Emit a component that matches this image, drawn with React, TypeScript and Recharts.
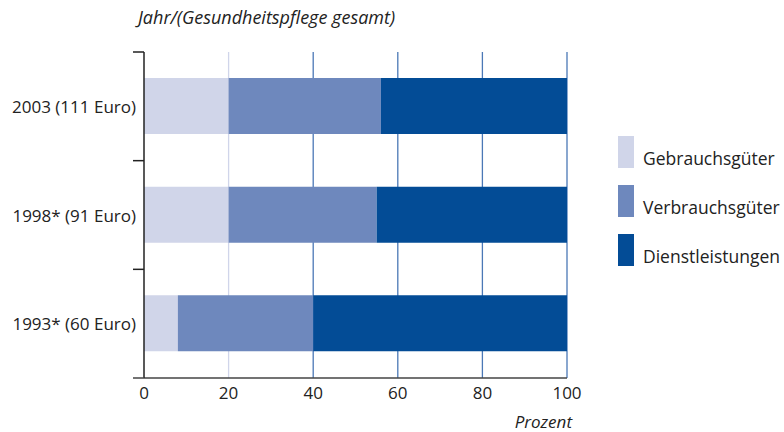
import React from 'react';
import { BarChart, Bar, XAxis, YAxis, CartesianGrid } from 'recharts';

const categories = ['2003 (111 Euro)', '1998* (91 Euro)', '1993* (60 Euro)'];
const gebrauchsgueter = [20, 20, 8];
const verbrauchsgueter = [36, 35, 32];
const dienstleistungen = [44, 45, 60];
const xTicks = [0, 20, 40, 60, 80, 100];

const seriesNames = ['Gebrauchsgüter', 'Verbrauchsgüter', 'Dienstleistungen'];
const colors = ['#d0d5e9', '#6e88bd', '#034c96'];

const data = categories.map((name, i) => ({
  name,
  g: gebrauchsgueter[i],
  v: verbrauchsgueter[i],
  d: dienstleistungen[i],
}));

const FONT = '"Open Sans", sans-serif';
const BAND = 326 / categories.length;

const YTick = (props: any) => {
  const { x, y, payload, index } = props;
  const ax = x + 8;
  return (
    <g>
      <text x={x} y={y} textAnchor="end" dominantBaseline="central" fontFamily={FONT} fontSize={17} fill="#222">
        {payload.value}
      </text>
      <line x1={ax - 11} x2={ax} y1={y - BAND / 2} y2={y - BAND / 2} stroke="#222" strokeWidth={1.5} />
      {index === categories.length - 1 && (
        <line x1={ax - 11} x2={ax} y1={y + BAND / 2} y2={y + BAND / 2} stroke="#444" strokeWidth={1.5} />
      )}
    </g>
  );
};

const GridLine = (p: any) => {
  if (p.index === 0) return <g />;
  return (
    <line
      x1={p.x1}
      x2={p.x2}
      y1={p.y1}
      y2={p.y2}
      stroke={p.index === 1 ? '#d0d5ea' : '#4b78b6'}
      strokeWidth={1.3}
    />
  );
};

export default function App() {
  return (
    <div style={{ position: 'absolute', left: 0, top: 0, width: 784, height: 432, background: '#fff', overflow: 'hidden' }}>
      <div style={{ position: 'absolute', left: 138, top: 5, fontFamily: FONT, fontStyle: 'italic', fontSize: 18, color: '#222' }}>
        Jahr/(Gesundheitspflege gesamt)
      </div>
      <div style={{ position: 'absolute', right: 212, top: 413, fontFamily: FONT, fontStyle: 'italic', fontSize: 17, lineHeight: '18px', color: '#222' }}>
        Prozent
      </div>
      <BarChart
        width={784}
        height={432}
        data={data}
        layout="vertical"
        margin={{ top: 52, right: 217, bottom: 24, left: 0 }}
        barSize={56}
      >
        <CartesianGrid horizontal={false} vertical={(p: any) => <GridLine {...p} />} />
        <XAxis
          type="number"
          domain={[0, 100]}
          ticks={xTicks}
          tickLine={false}
          axisLine={{ stroke: '#444', strokeWidth: 1.5 }}
          tick={{ fontFamily: FONT, fontSize: 17, fill: '#222' }}
          tickMargin={3}
          height={30}
        />
        <YAxis
          type="category"
          dataKey="name"
          width={144}
          tickLine={false}
          tickSize={0}
          tickMargin={8}
          axisLine={{ stroke: '#222', strokeWidth: 1.5 }}
          tick={<YTick />}
        />
        <Bar dataKey="g" name={seriesNames[0]} stackId="a" fill={colors[0]} isAnimationActive={false} />
        <Bar dataKey="v" name={seriesNames[1]} stackId="a" fill={colors[1]} isAnimationActive={false} />
        <Bar dataKey="d" name={seriesNames[2]} stackId="a" fill={colors[2]} isAnimationActive={false} />
      </BarChart>
      <div style={{ position: 'absolute', left: 618, top: 136, fontFamily: FONT }}>
        {seriesNames.map((n, i) => (
          <div key={n} style={{ display: 'flex', alignItems: 'flex-end', height: 32, marginBottom: 17, whiteSpace: 'nowrap' }}>
            <div style={{ width: 16, height: 32, background: colors[i], flexShrink: 0 }} />
            <span style={{ marginLeft: 9, fontSize: 17.5, color: '#222', lineHeight: '20px' }}>{n}</span>
          </div>
        ))}
      </div>
    </div>
  );
}
